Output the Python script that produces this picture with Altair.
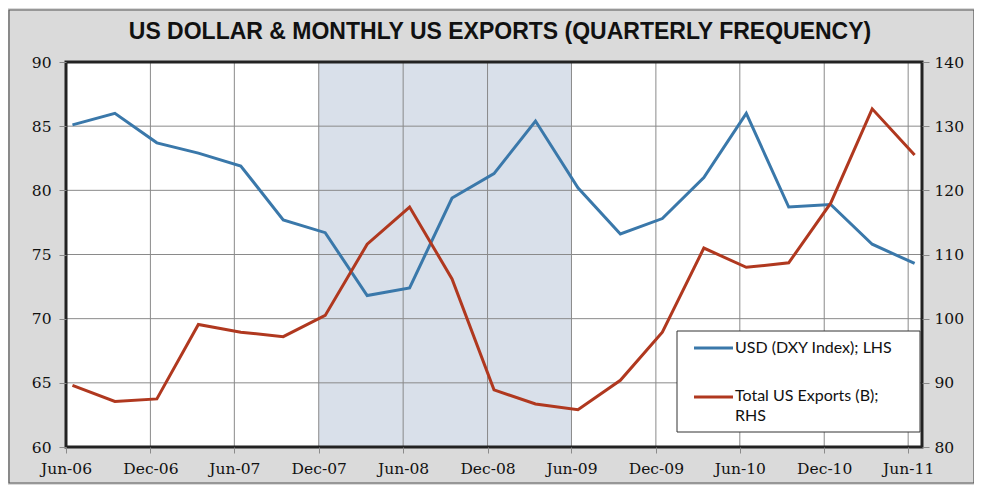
import altair as alt
import pandas as pd

# ---- data ----
dates = ["2006-06-15", "2006-09-15", "2006-12-15", "2007-03-15", "2007-06-15", "2007-09-15",
         "2007-12-15", "2008-03-15", "2008-06-15", "2008-09-15", "2008-12-15", "2009-03-15",
         "2009-06-15", "2009-09-15", "2009-12-15", "2010-03-15", "2010-06-15", "2010-09-15",
         "2010-12-15", "2011-03-15", "2011-06-15"]
usd = [85.1, 86.0, 83.7, 82.9, 81.9, 77.7, 76.7, 71.8, 72.4, 79.4, 81.3, 85.4,
       80.2, 76.6, 77.8, 81.0, 86.0, 78.7, 78.9, 75.8, 74.3]
exports = [89.6, 87.1, 87.5, 99.1, 97.9, 97.2, 100.5, 111.6, 117.4, 106.2, 88.9, 86.7,
           85.8, 90.4, 97.9, 111.0, 108.0, 108.7, 118.0, 132.7, 125.5]
tick_dates = ["2006-06-01", "2006-12-01", "2007-06-01", "2007-12-01", "2008-06-01", "2008-12-01",
              "2009-06-01", "2009-12-01", "2010-06-01", "2010-12-01", "2011-06-01"]
left_ticks = [60, 65, 70, 75, 80, 85, 90]
right_ticks = [80, 90, 100, 110, 120, 130, 140]
recession = ["2007-12-01", "2009-06-01"]
series_names = ["USD (DXY Index); LHS", "Total US Exports (B); RHS"]
title_text = "US DOLLAR  & MONTHLY US EXPORTS (QUARTERLY FREQUENCY)"

W, H = 856, 385
BLUE = "#3a78aa"
RED = "#b0381f"
GRID = "#8a8a8a"

def loc(d):
    return d + "T00:00:00"

def dt(s):
    y, m, d = s.split("-")
    return alt.DateTime(year=int(y), month=int(m), date=int(d))

df = pd.DataFrame({"date": [loc(d) for d in dates], "usd": usd, "exports": exports})
xdomain = [dt("2006-06-01"), dt("2011-07-01")]
xscale = alt.Scale(domain=xdomain)
xaxis = alt.Axis(values=[dt(d) for d in tick_dates], format="%b-%y", title=None,
                 grid=False, domain=False, tickColor=GRID, tickSize=6, zindex=1,
                 labelFlush=False, labelOverlap=False,
                 labelFont="DejaVu Serif", labelFontSize=15.5, labelColor="#111",
                 labelPadding=8)

one = pd.DataFrame({"k": [0]})

frame = alt.Chart(one).mark_rect(fill="#dadada", stroke="#555", strokeWidth=1.2).encode(
    x=alt.value(-57), x2=alt.value(908), y=alt.value(-52), y2=alt.value(421))

title = alt.Chart(one).mark_text(font="Liberation Sans", fontWeight="bold", fontSize=23,
                                  color="#111", align="center", baseline="middle").encode(
    x=alt.value(434), y=alt.value(-30), text=alt.value(title_text))

plotbg = alt.Chart(one).mark_rect(fill="white").encode(
    x=alt.value(0), x2=alt.value(W), y=alt.value(0), y2=alt.value(H))

shade = alt.Chart(pd.DataFrame({"s": [loc(recession[0])], "e": [loc(recession[1])]})).mark_rect(
    fill="#d9e0ea").encode(
    x=alt.X("s:T", scale=xscale, axis=xaxis), x2="e:T", y=alt.value(0), y2=alt.value(H))

vgrid = alt.Chart(pd.DataFrame({"t": [loc(d) for d in tick_dates[1:]]})).mark_rule(
    color=GRID, strokeWidth=1).encode(
    x=alt.X("t:T", scale=xscale, axis=xaxis), y=alt.value(0), y2=alt.value(H))

hgrid = alt.Chart(pd.DataFrame({"v": left_ticks[1:-1]})).mark_rule(
    color=GRID, strokeWidth=1).encode(
    y=alt.Y("v:Q", scale=alt.Scale(domain=[60, 90]), axis=None), x=alt.value(0), x2=alt.value(W))

blue = alt.Chart(df).mark_line(color=BLUE, strokeWidth=3).encode(
    x=alt.X("date:T", scale=xscale, axis=xaxis),
    y=alt.Y("usd:Q", scale=alt.Scale(domain=[60, 90], nice=False, zero=False),
            axis=alt.Axis(values=left_ticks, title=None, grid=False, domain=False, zindex=1,
                          tickColor=GRID, tickSize=7, labelPadding=8, labelFlush=False,
                          labelFont="DejaVu Serif", labelFontSize=15.5, labelColor="#111")))

red = alt.Chart(df).mark_line(color=RED, strokeWidth=3).encode(
    x=alt.X("date:T", scale=xscale, axis=xaxis),
    y=alt.Y("exports:Q", scale=alt.Scale(domain=[80, 140], nice=False, zero=False),
            axis=alt.Axis(orient="right", values=right_ticks, title=None, grid=False, zindex=1,
                          domain=False, tickColor=GRID, tickSize=7, labelPadding=5,
                          labelFlush=False,
                          labelFont="DejaVu Serif", labelFontSize=15.5, labelColor="#111")))

border = alt.Chart(one).mark_rect(fill=None, stroke="#222", strokeWidth=3).encode(
    x=alt.value(0), x2=alt.value(W), y=alt.value(0), y2=alt.value(H))

legbox = alt.Chart(one).mark_rect(fill="white", stroke="#333", strokeWidth=1).encode(
    x=alt.value(611), x2=alt.value(854), y=alt.value(269), y2=alt.value(370))

leg_blue_line = alt.Chart(one).mark_rule(color=BLUE, strokeWidth=3).encode(
    x=alt.value(628), x2=alt.value(667), y=alt.value(286))
leg_red_line = alt.Chart(one).mark_rule(color=RED, strokeWidth=3).encode(
    x=alt.value(628), x2=alt.value(667), y=alt.value(335))

legfont = dict(font="Lato", fontSize=16, color="#111", align="left", baseline="middle")
leg_t1 = alt.Chart(one).mark_text(**legfont).encode(
    x=alt.value(669), y=alt.value(286), text=alt.value(series_names[0]))
leg_t2 = alt.Chart(one).mark_text(**legfont).encode(
    x=alt.value(669), y=alt.value(334), text=alt.value("Total US Exports (B);"))
leg_t3 = alt.Chart(one).mark_text(**legfont).encode(
    x=alt.value(669), y=alt.value(354), text=alt.value("RHS"))

chart = alt.layer(
    frame, title, plotbg, shade, vgrid, hgrid, blue, red, border,
    legbox, leg_blue_line, leg_red_line, leg_t1, leg_t2, leg_t3
).resolve_scale(y="independent").properties(
    width=W, height=H,
    autosize=alt.AutoSizeParams(type="none"),
    padding={"left": 58, "top": 54, "right": 52, "bottom": 38},
    background="#dadada",
).configure_view(stroke=None)

chart.save("out.html", embed_options={"renderer": "svg", "actions": False})
